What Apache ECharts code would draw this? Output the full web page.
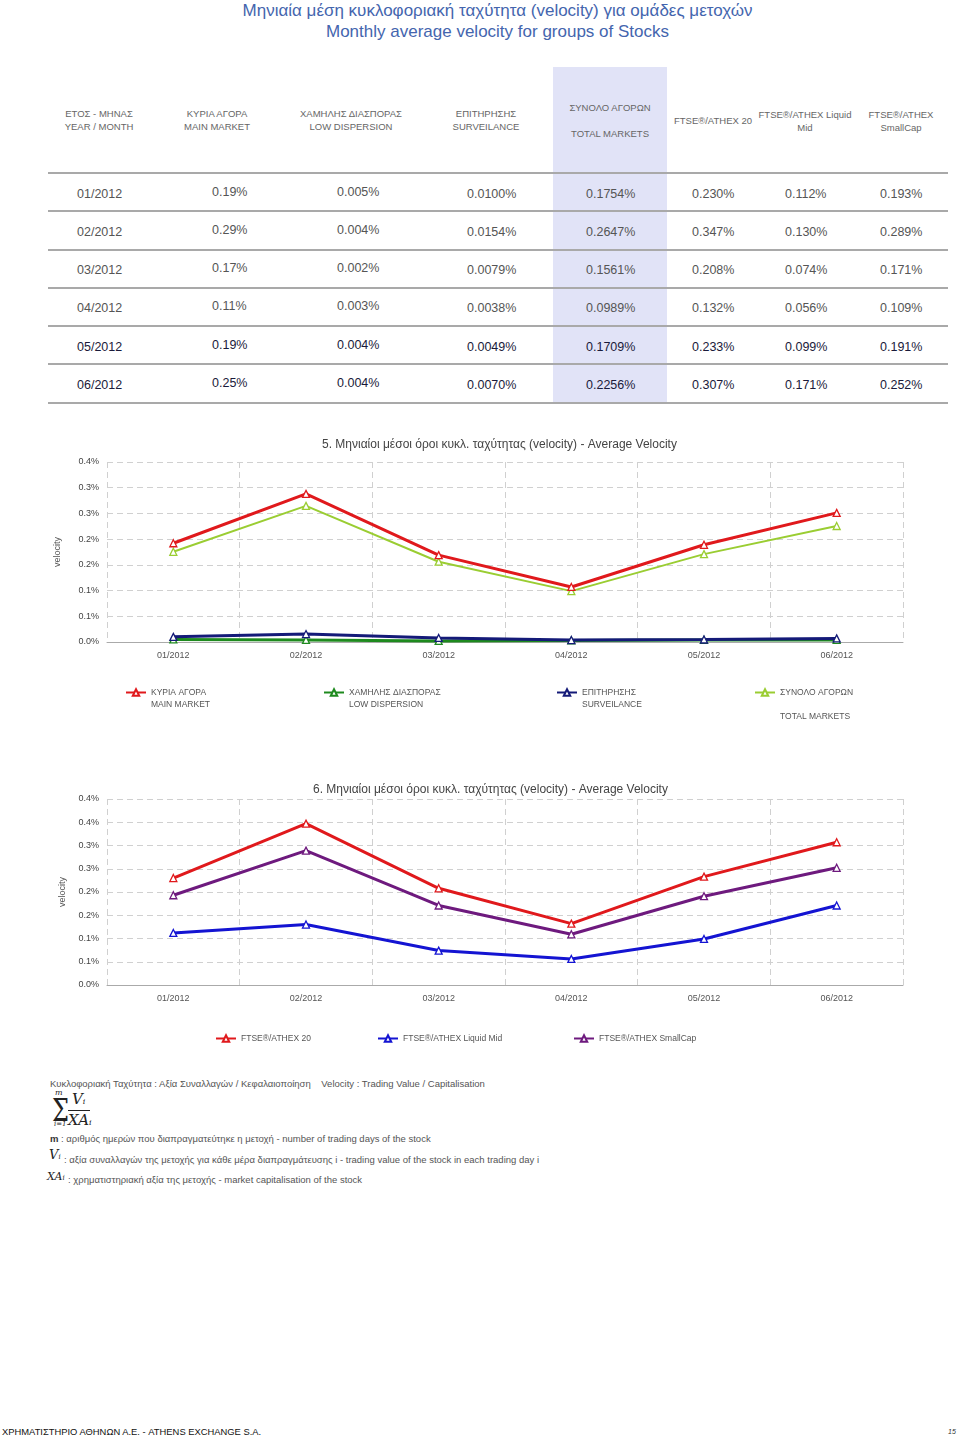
<!DOCTYPE html>
<html>
<head>
<meta charset="utf-8">
<script src="https://cdn.jsdelivr.net/npm/echarts@6/dist/echarts.min.js"></script>
<style>
html,body{margin:0;padding:0;background:#fff;}
#page{position:relative;width:960px;height:1437px;overflow:hidden;font-family:"Liberation Sans",Arial,sans-serif;}
.abs{position:absolute;white-space:nowrap;}
.title{left:0;width:995px;text-align:center;color:#4465ae;font-size:17px;font-family:"Liberation Sans",Arial,sans-serif;}
.hdr{font-size:9.5px;color:#666;text-align:center;line-height:13px;transform:translate(-50%,-50%);}
.cell{font-size:12.5px;transform:translateY(-50%);}
.hline{position:absolute;left:48px;width:900px;height:2px;background:#a9a9a9;}
.note{font-size:9.5px;color:#555;}
.ser{font-family:"DejaVu Serif","Liberation Serif",serif;font-style:italic;color:#222;}
</style>
</head>
<body>
<div id="page">
  <div class="abs title" style="top:1px;">Μηνιαία μέση κυκλοφοριακή ταχύτητα (velocity) για ομάδες μετοχών</div>
  <div class="abs title" style="top:22px;">Monthly average velocity for groups of Stocks</div>
  <div class="abs" style="left:553px;top:67px;width:114px;height:336px;background:#e1e3f7;"></div>
  <div id="table"></div>
  <div id="chart1" class="abs" style="left:0;top:420px;width:960px;height:310px;"></div>
  <div id="chart2" class="abs" style="left:0;top:770px;width:960px;height:290px;"></div>

  <div class="abs note" style="left:50px;top:1078px;">Κυκλοφοριακή Ταχύτητα : Αξία Συναλλαγών / Κεφαλαιοποίηση &nbsp;&nbsp;&nbsp;Velocity : Trading Value / Capitalisation</div>
  <div class="abs" style="left:50px;top:1090px;font-family:'DejaVu Serif','Liberation Serif',serif;color:#222;">
    <div class="abs ser" style="left:5px;top:-2px;font-size:8px;">m</div>
    <div class="abs" style="left:2px;top:8px;font-size:24px;line-height:24px;transform:scale(1,1.3);transform-origin:50% 11.5px;">&Sigma;</div>
    <div class="abs ser" style="left:4px;top:30px;font-size:7px;">i=1</div>
    <div class="abs ser" style="left:22px;top:0px;font-size:15px;">V<span style="font-size:8px;">i</span></div>
    <div class="abs" style="left:18px;top:20px;width:22px;height:1px;background:#222;"></div>
    <div class="abs ser" style="left:18px;top:21px;font-size:15px;">XA<span style="font-size:8px;">i</span></div>
  </div>
  <div class="abs note" style="left:50px;top:1133px;"><b style="color:#333;">m</b> : αριθμός ημερών που διαπραγματεύτηκε η μετοχή - number of trading days of the stock</div>
  <div class="abs ser" style="left:49px;top:1147px;font-size:13px;">V<span style="font-size:7px;">i</span></div>
  <div class="abs note" style="left:64px;top:1154px;">: αξία συναλλαγών της μετοχής για κάθε μέρα διαπραγμάτευσης i - trading value of the stock in each trading day i</div>
  <div class="abs ser" style="left:47px;top:1170px;font-size:11px;">XA<span style="font-size:7px;">i</span></div>
  <div class="abs note" style="left:68px;top:1174px;">: χρηματιστηριακή αξία της μετοχής - market capitalisation of the stock</div>

  <div class="abs" style="left:2px;top:1426px;font-size:9.4px;color:#111;font-family:'Liberation Sans Narrow','Liberation Sans',Arial,sans-serif;">ΧΡΗΜΑΤΙΣΤΗΡΙΟ ΑΘΗΝΩΝ Α.Ε. - ATHENS EXCHANGE S.A.</div>
  <div class="abs" style="left:948px;top:1428px;font-size:7px;font-style:italic;color:#333;">15</div>
</div>
<script>
// ---- data ----
const months = ['01/2012','02/2012','03/2012','04/2012','05/2012','06/2012'];
const mainMarket    = [0.192, 0.288, 0.169, 0.107, 0.189, 0.251];
const lowDispersion = [0.005, 0.004, 0.002, 0.003, 0.004, 0.004];
const surveillance  = [0.0100, 0.0154, 0.0079, 0.0038, 0.0049, 0.0070];
const totalMarkets  = [0.1754, 0.2647, 0.1561, 0.0989, 0.1709, 0.2256];
const ftse20        = [0.230, 0.347, 0.208, 0.132, 0.233, 0.307];
const liquidMid     = [0.112, 0.130, 0.074, 0.056, 0.099, 0.171];
const smallCap      = [0.193, 0.289, 0.171, 0.109, 0.191, 0.252];
const yLabels1 = ['0.0%','0.1%','0.1%','0.2%','0.2%','0.3%','0.3%','0.4%'];
const yLabels2 = ['0.0%','0.1%','0.1%','0.2%','0.2%','0.3%','0.3%','0.4%','0.4%'];
const headers = ['ΕΤΟΣ - ΜΗΝΑΣ\nYEAR / MONTH','ΚΥΡΙΑ ΑΓΟΡΑ\nMAIN MARKET','ΧΑΜΗΛΗΣ ΔΙΑΣΠΟΡΑΣ\nLOW DISPERSION','ΕΠΙΤΗΡΗΣΗΣ\nSURVEILANCE','ΣΥΝΟΛΟ ΑΓΟΡΩΝ\n\nTOTAL MARKETS','FTSE®/ATHEX 20','FTSE®/ATHEX Liquid\nMid','FTSE®/ATHEX\nSmallCap'];

// ---- table ----
(function(){
  const t = document.getElementById('table');
  let html = '';
  const hx = [99,217,351,486,610,713,805,901];
  const hy = [120,120,120,120,120,120,121,121];
  headers.forEach((h,i)=>{
    html += `<div class="abs hdr" style="left:${hx[i]}px;top:${hy[i]}px;">${h.split('\n').map(s=>s||'&nbsp;').join('<br>')}</div>`;
  });
  const cx = [77,212,337,467,586,692,785,880];
  const cols = [mainMarket,lowDispersion,surveillance,totalMarkets,ftse20,liquidMid,smallCap];
  const dec = [2,3,4,4,3,3,3];
  const lineY = [172,210,249,287,325,363,402];
  lineY.forEach(y=>{ html += `<div class="hline" style="top:${y}px;"></div>`; });
  months.forEach((m,r)=>{
    const y = 193.5 + r*38.3;
    const col = r>=4 ? '#1a1a3a' : '#555';
    html += `<div class="abs cell" style="left:${cx[0]}px;top:${y}px;color:${col};">${m}</div>`;
    cols.forEach((c,k)=>{
      html += `<div class="abs cell" style="left:${cx[k+1]}px;top:${y - (k<2?2:0)}px;color:${col};">${c[r].toFixed(dec[k])}%</div>`;
    });
  });
  t.innerHTML = html;
})();

// ---- charts ----
function lineSeries(name, data, color, width){
  return {
    name, type:'line', data, symbol:'triangle', symbolSize:7,
    lineStyle:{color, width},
    itemStyle:{color:'#fff', borderColor:color, borderWidth:1.3},
    emphasis:{disabled:true}, animation:false, z: 3
  };
}
function legendAt(name, left, top, lines){
  const pt = (lines-1)*12;
  return {
    data:[name], left, top, padding:0, itemWidth:20, itemHeight:8, itemGap:0,
    selectedMode:false,
    formatter: n => {
      const parts = n.split('\n');
      return '{a|' + parts[0] + '}' + parts.slice(1).map(p => '\n{b|' + (p || ' ') + '}').join('');
    },
    textStyle:{fontSize:8.5, color:'#555', fontFamily:'Liberation Sans, Arial, sans-serif',
      rich:{
        a:{fontSize:8.5, color:'#555', lineHeight:12+pt, padding:[pt,0,0,0], fontFamily:'Liberation Sans, Arial, sans-serif'},
        b:{fontSize:8.5, color:'#555', lineHeight:12, fontFamily:'Liberation Sans, Arial, sans-serif'}
      }}
  };
}
function baseAxes(max, labels){
  return {
    xAxis:{type:'category', data:months, boundaryGap:true,
      axisLine:{lineStyle:{color:'#aaa'}}, axisTick:{show:false},
      axisLabel:{fontSize:9, color:'#555', margin:9, fontFamily:'Liberation Sans, Arial, sans-serif'},
      splitLine:{show:true, lineStyle:{color:'#d0d0d0', type:[6,4]}}},
    yAxis:{type:'value', min:0, max, interval:0.05, name:'velocity', nameLocation:'middle',
      nameRotate:90, nameTextStyle:{fontSize:9, color:'#555'},
      axisLine:{show:false}, axisTick:{show:false},
      axisLabel:{fontSize:9, color:'#444', margin:8, formatter:v=>labels[Math.round(v/0.05)]},
      splitLine:{show:true, lineStyle:{color:'#d0d0d0', type:[6,4]}}}
  };
}

const c1 = echarts.init(document.getElementById('chart1'));
const a1 = baseAxes(0.35, yLabels1);
a1.yAxis.nameGap = 45;
const n1 = ['ΚΥΡΙΑ ΑΓΟΡΑ\nMAIN MARKET','ΧΑΜΗΛΗΣ ΔΙΑΣΠΟΡΑΣ\nLOW DISPERSION','ΕΠΙΤΗΡΗΣΗΣ\nSURVEILANCE','ΣΥΝΟΛΟ ΑΓΟΡΩΝ\n\nTOTAL MARKETS'];
c1.setOption({
  animation:false,
  title:{text:'5. Μηνιαίοι μέσοι όροι κυκλ. ταχύτητας (velocity) - Average Velocity', left:317, top:14,
    textStyle:{fontSize:12, fontWeight:'normal', color:'#444', fontFamily:'Liberation Sans, Arial, sans-serif'}},
  grid:{left:107, right:57, top:42, height:180},
  xAxis:a1.xAxis, yAxis:a1.yAxis,
  legend:[legendAt(n1[0],125,256,2), legendAt(n1[1],323,256,2), legendAt(n1[2],556,256,2), legendAt(n1[3],754,244,3)],
  series:[
    lineSeries(n1[3], totalMarkets, '#9acd32', 2),
    lineSeries(n1[1], lowDispersion, '#1e8a1e', 3),
    lineSeries(n1[2], surveillance, '#141a78', 3),
    lineSeries(n1[0], mainMarket, '#e0191c', 3)
  ]
});

const c2 = echarts.init(document.getElementById('chart2'));
const a2 = baseAxes(0.40, yLabels2);
a2.yAxis.nameGap = 40;
const n2 = ['FTSE®/ATHEX 20','FTSE®/ATHEX Liquid Mid','FTSE®/ATHEX SmallCap'];
c2.setOption({
  animation:false,
  title:{text:'6. Μηνιαίοι μέσοι όροι κυκλ. ταχύτητας (velocity) - Average Velocity', left:308, top:9,
    textStyle:{fontSize:12, fontWeight:'normal', color:'#444', fontFamily:'Liberation Sans, Arial, sans-serif'}},
  grid:{left:107, right:57, top:29, height:186},
  xAxis:a2.xAxis, yAxis:a2.yAxis,
  legend:[legendAt(n2[0],215,264,1), legendAt(n2[1],377,264,1), legendAt(n2[2],573,264,1)],
  series:[
    lineSeries(n2[1], liquidMid, '#1414d2', 3),
    lineSeries(n2[2], smallCap, '#6e1a7e', 3),
    lineSeries(n2[0], ftse20, '#e0191c', 3)
  ]
});
</script>
</body>
</html>
